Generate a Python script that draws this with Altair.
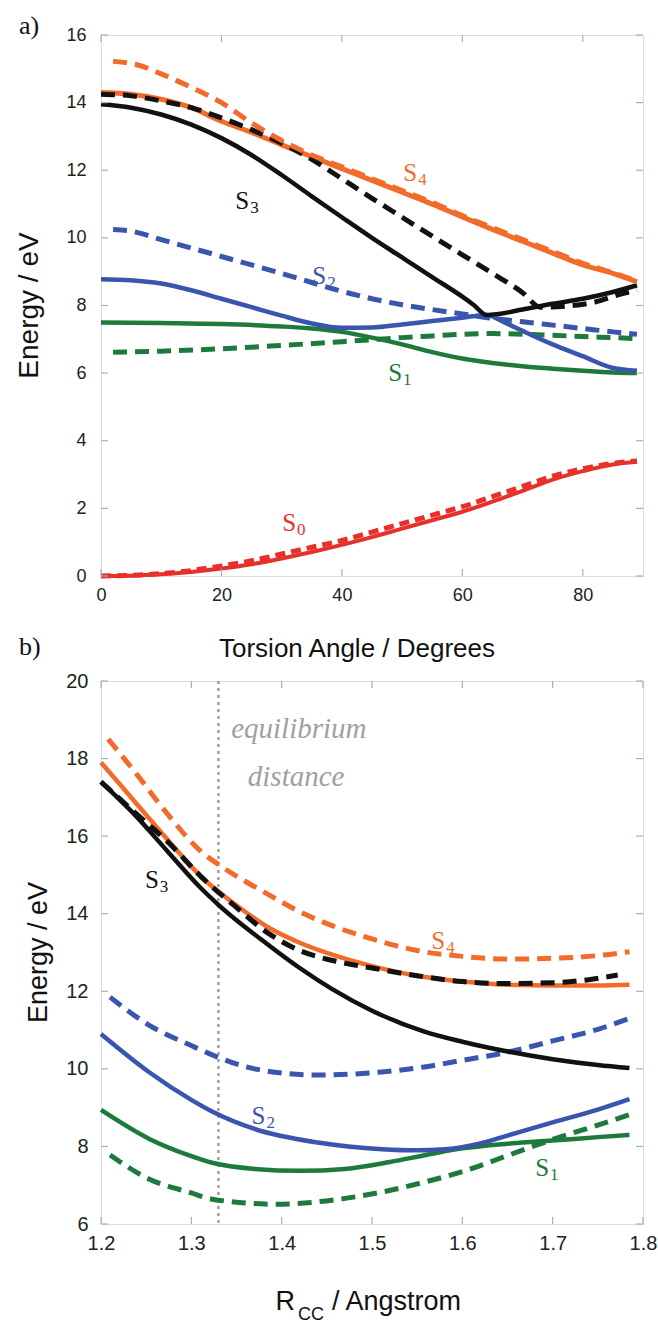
import altair as alt
import pandas as pd

# ---------------- colours / fonts ----------------
ORANGE = "#F26B2A"
BLACK = "#111111"
BLUE = "#3A55AE"
GREEN = "#1E7A3C"
RED = "#E8302A"
FRAME = "#A8A8D8"
SANS = "Liberation Sans"
SERIF = "Liberation Serif"

# ---------------- panel a: torsion angle ----------------
A_S4_SOLID_X = [0, 5, 10, 15, 20, 25, 30, 35, 40, 45, 50, 55, 60, 65, 70, 75, 80, 85, 89]
A_S4_SOLID_Y = [14.3, 14.25, 14.1, 13.85, 13.45, 13.12, 12.75, 12.4, 12.05, 11.7, 11.35, 11.0, 10.62, 10.25, 9.9, 9.55, 9.2, 8.95, 8.7]
A_S4_DASH_X = [2, 6, 10, 15, 20, 25, 30, 35, 40, 45, 50, 55, 60, 65, 70, 75, 80, 85, 89]
A_S4_DASH_Y = [15.22, 15.12, 14.85, 14.45, 14.0, 13.4, 12.88, 12.45, 12.1, 11.75, 11.4, 11.05, 10.66, 10.3, 9.95, 9.6, 9.25, 8.97, 8.72]
A_S3_SOLID_X = [0, 5, 10, 15, 20, 25, 30, 35, 40, 45, 50, 55, 60, 62, 64, 66, 70, 75, 80, 85, 89]
A_S3_SOLID_Y = [13.95, 13.85, 13.65, 13.35, 12.95, 12.45, 11.86, 11.23, 10.61, 10.0, 9.42, 8.84, 8.26, 8.0, 7.72, 7.75, 7.88, 8.05, 8.2, 8.4, 8.6]
A_S3_DASH_X = [0, 5, 10, 15, 20, 25, 30, 35, 40, 45, 50, 55, 60, 65, 70, 73, 77, 82, 86, 89]
A_S3_DASH_Y = [14.25, 14.2, 14.05, 13.85, 13.55, 13.2, 12.8, 12.32, 11.75, 11.17, 10.61, 10.05, 9.5, 8.95, 8.38, 7.95, 7.98, 8.1, 8.32, 8.45]
A_S2_SOLID_X = [0, 5, 10, 15, 20, 25, 30, 35, 40, 45, 50, 55, 60, 64, 67, 70, 75, 80, 85, 89]
A_S2_SOLID_Y = [8.78, 8.75, 8.65, 8.45, 8.2, 7.95, 7.7, 7.47, 7.34, 7.35, 7.44, 7.54, 7.64, 7.72, 7.5, 7.25, 6.85, 6.5, 6.15, 6.07]
A_S2_DASH_X = [2, 5, 10, 15, 20, 25, 30, 35, 40, 45, 50, 55, 60, 65, 70, 75, 80, 85, 89]
A_S2_DASH_Y = [10.25, 10.2, 9.95, 9.7, 9.45, 9.2, 8.95, 8.68, 8.42, 8.2, 8.02, 7.88, 7.75, 7.62, 7.52, 7.42, 7.32, 7.22, 7.15]
A_S1_SOLID_X = [0, 10, 20, 30, 35, 40, 45, 50, 55, 60, 65, 70, 75, 80, 85, 89]
A_S1_SOLID_Y = [7.5, 7.48, 7.45, 7.38, 7.32, 7.22, 7.05, 6.85, 6.62, 6.43, 6.3, 6.2, 6.13, 6.07, 6.02, 6.0]
A_S1_DASH_X = [2, 10, 20, 30, 40, 46, 50, 55, 60, 65, 70, 75, 80, 85, 89]
A_S1_DASH_Y = [6.62, 6.65, 6.72, 6.82, 6.93, 7.0, 7.05, 7.1, 7.15, 7.17, 7.15, 7.12, 7.08, 7.05, 7.02]
A_S0_X = [0, 5, 10, 15, 20, 25, 30, 35, 40, 45, 50, 55, 60, 65, 70, 75, 80, 85, 89]
A_S0_SOLID_Y = [0, 0.01, 0.05, 0.12, 0.22, 0.35, 0.52, 0.71, 0.92, 1.15, 1.4, 1.65, 1.9, 2.2, 2.52, 2.85, 3.1, 3.3, 3.38]
A_S0_DASH_Y = [0, 0.02, 0.07, 0.16, 0.3, 0.45, 0.65, 0.85, 1.05, 1.3, 1.55, 1.8, 2.05, 2.35, 2.65, 2.95, 3.17, 3.33, 3.4]

A_LABEL_X = [52.5, 24.6, 37.4, 50.0, 32.4]
A_LABEL_Y = [11.68, 10.85, 8.64, 5.77, 1.33]
A_LABEL_SUB = ["4", "3", "2", "1", "0"]
A_LABEL_COLOR = [ORANGE, BLACK, BLUE, GREEN, RED]

A_XTICKS = [0, 20, 40, 60, 80]
A_YTICKS = [0, 2, 4, 6, 8, 10, 12, 14, 16]

# ---------------- panel b: C-C distance ----------------
B_S4_SOLID_X = [1.2, 1.237, 1.274, 1.311, 1.348, 1.385, 1.42, 1.455, 1.5, 1.55, 1.6, 1.65, 1.7, 1.75, 1.785]
B_S4_SOLID_Y = [17.9, 16.9, 15.9, 14.95, 14.25, 13.65, 13.25, 12.95, 12.65, 12.4, 12.25, 12.17, 12.15, 12.15, 12.17]
B_S4_DASH_X = [1.208, 1.237, 1.274, 1.311, 1.33, 1.385, 1.42, 1.455, 1.5, 1.55, 1.6, 1.65, 1.7, 1.75, 1.785]
B_S4_DASH_Y = [18.5, 17.67, 16.56, 15.6, 15.27, 14.5, 14.05, 13.7, 13.35, 13.05, 12.9, 12.83, 12.85, 12.92, 13.02]
B_S3_SOLID_X = [1.2, 1.237, 1.274, 1.311, 1.33, 1.385, 1.42, 1.455, 1.5, 1.558, 1.6, 1.652, 1.7, 1.75, 1.785]
B_S3_SOLID_Y = [17.4, 16.56, 15.6, 14.65, 14.23, 13.2, 12.6, 12.07, 11.5, 10.96, 10.7, 10.44, 10.25, 10.1, 10.02]
B_S3_DASH_X = [1.2, 1.237, 1.274, 1.311, 1.348, 1.385, 1.42, 1.455, 1.5, 1.55, 1.6, 1.65, 1.7, 1.74, 1.772]
B_S3_DASH_Y = [17.4, 16.62, 15.85, 14.95, 14.2, 13.5, 13.05, 12.8, 12.6, 12.4, 12.25, 12.2, 12.22, 12.3, 12.42]
B_S2_SOLID_X = [1.2, 1.253, 1.3, 1.323, 1.37, 1.44, 1.511, 1.55, 1.581, 1.62, 1.65, 1.7, 1.75, 1.785]
B_S2_SOLID_Y = [10.9, 9.92, 9.2, 8.9, 8.45, 8.1, 7.93, 7.9, 7.93, 8.08, 8.28, 8.62, 8.95, 9.22]
B_S2_DASH_X = [1.21, 1.253, 1.3, 1.323, 1.37, 1.44, 1.511, 1.558, 1.6, 1.652, 1.7, 1.75, 1.785]
B_S2_DASH_Y = [11.85, 11.13, 10.6, 10.36, 10.0, 9.84, 9.92, 10.05, 10.22, 10.44, 10.72, 11.02, 11.3]
B_S1_SOLID_X = [1.2, 1.253, 1.3, 1.323, 1.37, 1.42, 1.47, 1.52, 1.56, 1.6, 1.65, 1.7, 1.75, 1.785]
B_S1_SOLID_Y = [8.94, 8.2, 7.75, 7.58, 7.42, 7.37, 7.42, 7.6, 7.78, 7.95, 8.07, 8.15, 8.24, 8.3]
B_S1_DASH_X = [1.21, 1.253, 1.3, 1.323, 1.394, 1.464, 1.51, 1.558, 1.6, 1.652, 1.7, 1.75, 1.785]
B_S1_DASH_Y = [7.78, 7.16, 6.8, 6.64, 6.51, 6.64, 6.82, 7.08, 7.35, 7.78, 8.18, 8.55, 8.82]

B_LABEL_X = [1.581, 1.264, 1.382, 1.696]
B_LABEL_Y = [13.09, 14.66, 8.58, 7.24]
B_LABEL_SUB = ["4", "3", "2", "1"]
B_LABEL_COLOR = [ORANGE, BLACK, BLUE, GREEN]

B_EQ_X = [1.33]
B_NOTE_X = [1.419, 1.416]
B_NOTE_Y = [18.53, 17.3]
B_NOTE_TEXT = ["equilibrium", "distance"]

B_XTICKS = [1.2, 1.3, 1.4, 1.5, 1.6, 1.7, 1.8]
B_YTICKS = [6, 8, 10, 12, 14, 16, 18, 20]

W_A, H_A = 542, 541
W_B, H_B = 542, 543
TICK = 7


def make_axis(values, fmt, size, pad):
    return alt.Axis(values=values, format=fmt, ticks=False, domain=False, grid=False,
                    labelFont=SANS, labelFontSize=size, labelColor="#222222",
                    labelPadding=pad, labelFlush=False, labelOverlap=False, title=None)


class Panel:
    def __init__(self, xdom, ydom, xticks, yticks, xfmt, yfmt, size, xpad, ypad, W, H):
        self.xs = alt.Scale(domain=xdom, nice=False, zero=False)
        self.ys = alt.Scale(domain=ydom, nice=False, zero=False)
        self.xax = make_axis(xticks, xfmt, size, xpad)
        self.yax = make_axis(yticks, yfmt, size, ypad)
        self.xticks, self.yticks = xticks, yticks
        self.W, self.H = W, H

    def X(self, f):
        return alt.X(f + ":Q", scale=self.xs, axis=self.xax)

    def Y(self, f):
        return alt.Y(f + ":Q", scale=self.ys, axis=self.yax)

    def lines(self, series):
        rows = []
        for name, xs, ys, *_ in series:
            for x, y in zip(xs, ys):
                rows.append({"s": name, "x": x, "y": y})
        df = pd.DataFrame(rows)
        out = []
        for name, xs, ys, color, width, dash in series:
            kw = dict(color=color, strokeWidth=width, interpolate="monotone", strokeCap="butt")
            if dash:
                kw["strokeDash"] = dash
            out.append(alt.Chart(df).transform_filter(alt.datum.s == name)
                       .mark_line(**kw).encode(x=self.X("x"), y=self.Y("y")))
        return out

    def ticks(self):
        dx = pd.DataFrame({"v": self.xticks})
        dy = pd.DataFrame({"v": self.yticks})
        rk = dict(color=FRAME, strokeWidth=1.2)
        W, H = self.W, self.H
        return [
            alt.Chart(dx).mark_rule(**rk).encode(x=self.X("v"), y=alt.value(0), y2=alt.value(TICK)),
            alt.Chart(dx).mark_rule(**rk).encode(x=self.X("v"), y=alt.value(H), y2=alt.value(H - TICK)),
            alt.Chart(dy).mark_rule(**rk).encode(y=self.Y("v"), x=alt.value(0), x2=alt.value(TICK)),
            alt.Chart(dy).mark_rule(**rk).encode(y=self.Y("v"), x=alt.value(W), x2=alt.value(W - TICK)),
        ]

    def labels(self, lx, ly, subs, colors):
        df = pd.DataFrame({"x": lx, "y": ly, "sub": subs, "c": colors, "S": ["S"] * len(lx)})
        main = alt.Chart(df).mark_text(font=SERIF, fontSize=25, align="right", baseline="alphabetic").encode(
            x=self.X("x"), y=self.Y("y"), text="S:N", color=alt.Color("c:N", scale=None))
        sub = alt.Chart(df).mark_text(font=SERIF, fontSize=17, align="left", baseline="alphabetic",
                                      dx=1, dy=4).encode(
            x=self.X("x"), y=self.Y("y"), text="sub:N", color=alt.Color("c:N", scale=None))
        return [main, sub]


def free_text(t, x, y, **kw):
    return alt.Chart(pd.DataFrame({"t": [t]})).mark_text(**kw).encode(
        text="t:N", x=alt.value(x), y=alt.value(y))


# ---------------- panel a ----------------
pa = Panel([0, 90], [0, 16], A_XTICKS, A_YTICKS, "d", "d", 18, 10, 15, W_A, H_A)
series_a = [
    ("g_d", A_S1_DASH_X, A_S1_DASH_Y, GREEN, 5, [14, 8]),
    ("g_s", A_S1_SOLID_X, A_S1_SOLID_Y, GREEN, 4.5, None),
    ("b_d", A_S2_DASH_X, A_S2_DASH_Y, BLUE, 5, [14, 8]),
    ("b_s", A_S2_SOLID_X, A_S2_SOLID_Y, BLUE, 4.5, None),
    ("r_s", A_S0_X, A_S0_SOLID_Y, RED, 4, None),
    ("r_d", A_S0_X, A_S0_DASH_Y, RED, 5, [10, 6]),
    ("k_s", A_S3_SOLID_X, A_S3_SOLID_Y, BLACK, 4.5, None),
    ("o_s", A_S4_SOLID_X, A_S4_SOLID_Y, ORANGE, 5, None),
    ("k_d", A_S3_DASH_X, A_S3_DASH_Y, BLACK, 5, [14, 8]),
    ("o_d", A_S4_DASH_X, A_S4_DASH_Y, ORANGE, 5, [14, 8]),
]
layers_a = pa.lines(series_a) + pa.ticks() + pa.labels(A_LABEL_X, A_LABEL_Y, A_LABEL_SUB, A_LABEL_COLOR)
layers_a += [
    free_text("a)", -82, -1, font=SERIF, fontSize=26, align="left", baseline="alphabetic", color="#111111"),
    free_text("Torsion Angle / Degrees", 256, H_A + 81, font=SANS, fontSize=26, align="center",
              baseline="alphabetic", color="#111111"),
    free_text("Energy / eV", -63, H_A / 2, font=SANS, fontSize=28, align="center",
              baseline="alphabetic", angle=270, color="#111111"),
]
chart_a = alt.layer(*layers_a).properties(width=W_A, height=H_A)

# ---------------- panel b ----------------
pb = Panel([1.2, 1.8], [6, 20], B_XTICKS, B_YTICKS, ".1f", "d", 20, 9, 13, W_B, H_B)
series_b = [
    ("g_d", B_S1_DASH_X, B_S1_DASH_Y, GREEN, 5, [14, 8]),
    ("g_s", B_S1_SOLID_X, B_S1_SOLID_Y, GREEN, 4.5, None),
    ("b_s", B_S2_SOLID_X, B_S2_SOLID_Y, BLUE, 4.5, None),
    ("b_d", B_S2_DASH_X, B_S2_DASH_Y, BLUE, 5, [14, 8]),
    ("k_s", B_S3_SOLID_X, B_S3_SOLID_Y, BLACK, 4.5, None),
    ("o_s", B_S4_SOLID_X, B_S4_SOLID_Y, ORANGE, 4.5, None),
    ("k_d", B_S3_DASH_X, B_S3_DASH_Y, BLACK, 5, [14, 8]),
    ("o_d", B_S4_DASH_X, B_S4_DASH_Y, ORANGE, 5, [14, 8]),
]
eq_rule = alt.Chart(pd.DataFrame({"x": B_EQ_X})).mark_rule(
    color="#A0A0A0", strokeWidth=2.5, strokeDash=[3, 4]).encode(x=pb.X("x"))
notes = alt.Chart(pd.DataFrame({"x": B_NOTE_X, "y": B_NOTE_Y, "t": B_NOTE_TEXT})).mark_text(
    font=SERIF, fontStyle="italic", fontSize=29, color="#A0A0A0", align="center", baseline="alphabetic").encode(
    x=pb.X("x"), y=pb.Y("y"), text="t:N")

layers_b = [eq_rule] + pb.lines(series_b) + pb.ticks() + pb.labels(B_LABEL_X, B_LABEL_Y, B_LABEL_SUB, B_LABEL_COLOR)
layers_b += [
    notes,
    free_text("b)", -82, -26, font=SERIF, fontSize=26, align="left", baseline="alphabetic", color="#111111"),
    free_text("R", 194, H_B + 86, font=SANS, fontSize=27, align="right", baseline="alphabetic", color="#111111"),
    free_text("CC", 197, H_B + 96, font=SANS, fontSize=18, align="left", baseline="alphabetic", color="#111111"),
    free_text("/ Angstrom", 231, H_B + 86, font=SANS, fontSize=27, align="left", baseline="alphabetic",
              color="#111111"),
    free_text("Energy / eV", -54, H_B / 2, font=SANS, fontSize=27, align="center",
              baseline="alphabetic", angle=270, color="#111111"),
]
chart_b = alt.layer(*layers_b).properties(width=W_B, height=H_B)

chart = alt.vconcat(chart_a, chart_b, spacing=105, bounds="flush").properties(
    padding={"left": 15, "top": 12, "right": 0, "bottom": 0}
).configure_view(stroke=FRAME, strokeWidth=1.2).configure(background="white")

chart.save("out.html", embed_options={"renderer": "svg", "actions": False})
